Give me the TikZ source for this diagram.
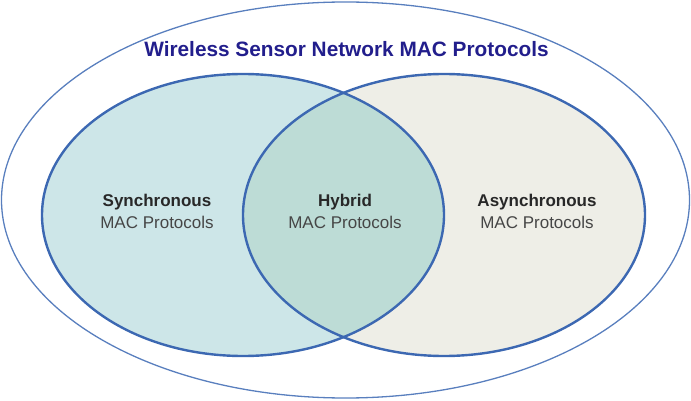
\documentclass[tikz,border=0pt]{standalone}
\usepackage{fontspec}
\setmainfont{Liberation Sans}
\usetikzlibrary{positioning}
\definecolor{ringblue}{RGB}{60,104,178}
\definecolor{titleblue}{RGB}{34,30,140}
\definecolor{syncfill}{RGB}{205,230,232}
\definecolor{asyncfill}{RGB}{238,238,231}
\definecolor{hybridfill}{RGB}{189,220,214}
\definecolor{labelgray}{RGB}{70,70,70}
\definecolor{labeldark}{RGB}{40,40,40}
\tikzset{
    setring/.style={draw=ringblue, line width=2.4pt},
    outerring/.style={draw=ringblue!85, line width=1.3pt},
    titletext/.style={font=\bfseries\fontsize{20.8}{25}\selectfont, text=titleblue},
    setlabel/.style={align=center, font=\fontsize{17}{22}\selectfont, text=labelgray},
}
\newcommand{\setname}[1]{{\color{labeldark}\bfseries #1}}

\begin{document}
\begin{tikzpicture}[x=1pt, y=-1pt]
\useasboundingbox (0,0) rectangle (691,401);

% outer set: all WSN MAC protocols
\draw[outerring] (345.5,200) ellipse [x radius=344, y radius=198];
\node[titletext] (wsn) at (346.5,49.3) {Wireless Sensor Network MAC Protocols};

% the two inner sets and their overlap
\fill[syncfill] (243,215) ellipse [x radius=201, y radius=141];
\fill[asyncfill] (444,215) ellipse [x radius=201, y radius=141];
\begin{scope}
  \clip (243,215) ellipse [x radius=201, y radius=141];
  \fill[hybridfill] (444,215) ellipse [x radius=201, y radius=141];
\end{scope}
\draw[setring] (243,215) ellipse [x radius=201, y radius=141];
\draw[setring] (444,215) ellipse [x radius=201, y radius=141];

% labels
\node[setlabel] (sync) at (157,211) {\setname{Synchronous}\\MAC Protocols};
\node[setlabel] (hybrid) at (345,211) {\setname{Hybrid}\\MAC Protocols};
\node[setlabel] (async) at (537,211) {\setname{Asynchronous}\\MAC Protocols};

\end{tikzpicture}
\end{document}
